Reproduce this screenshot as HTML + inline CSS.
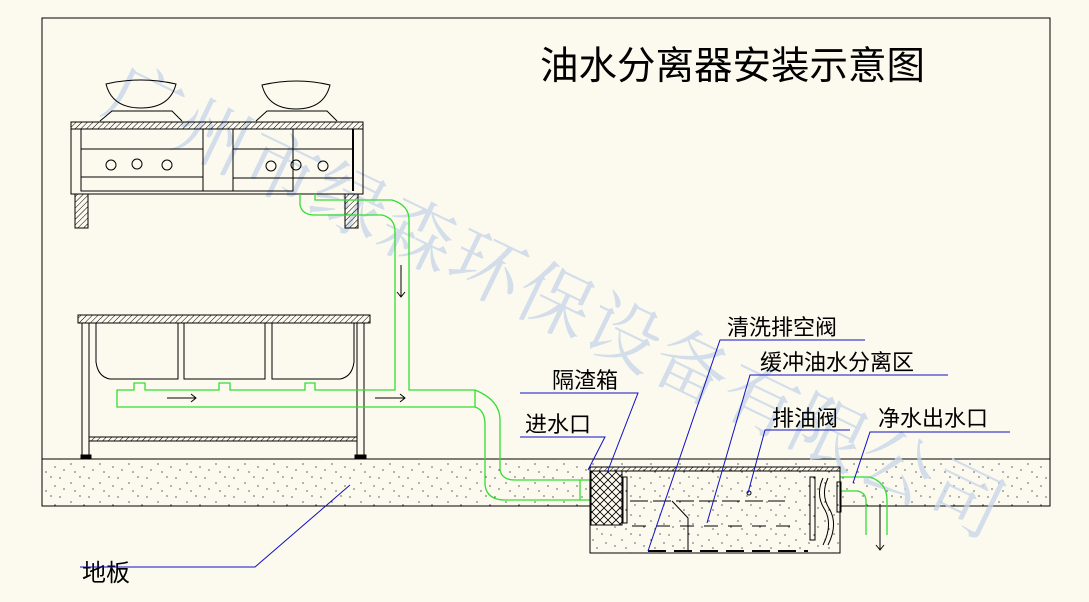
<!DOCTYPE html>
<html><head><meta charset="utf-8"><style>
html,body{margin:0;padding:0;background:#fcfaee;}
svg{display:block;font-family:"Liberation Sans","Noto Sans CJK SC",sans-serif;}
</style></head><body>
<svg width="1089" height="602" viewBox="0 0 1089 602" xmlns="http://www.w3.org/2000/svg">
<defs>
<pattern id="hatch" width="4" height="4" patternUnits="userSpaceOnUse" patternTransform="rotate(45)"><line x1="0" y1="0" x2="0" y2="4" stroke="#000" stroke-width="1"/></pattern>
<pattern id="dots" width="29" height="19" patternUnits="userSpaceOnUse">
<circle cx="2" cy="3" r=".6" fill="#000"/><circle cx="13" cy="8" r=".6" fill="#000"/><circle cx="22" cy="2" r=".6" fill="#000"/><circle cx="6" cy="14" r=".6" fill="#000"/><circle cx="17" cy="16" r=".6" fill="#000"/><circle cx="26" cy="11" r=".6" fill="#000"/></pattern>
<pattern id="mesh" width="8" height="8" patternUnits="userSpaceOnUse"><path d="M0 0L8 8M8 0L0 8" stroke="#000" stroke-width=".8"/></pattern>
</defs>
<rect width="1089" height="602" fill="#fcfaee"/>
<rect x="42" y="459" width="1008" height="47" fill="url(#dots)"/>
<rect x="42" y="18" width="1008" height="488" fill="none" stroke="#000" stroke-width="1"/>
<line x1="42" y1="459" x2="1050" y2="459" stroke="#000"/>
<text x="0" y="0" transform="translate(100,110) rotate(25.8)" font-size="74" fill="#c9d8ea" opacity=".8" letter-spacing="2" font-family="'Noto Serif CJK SC','Noto Sans CJK SC',serif">广州市绿森环保设备有限公司</text>
<text x="540" y="79" font-size="38.5" fill="#000">油水分离器安装示意图</text>
<g stroke="#000" fill="none" stroke-width="1">
<path d="M106 84 Q141 76 176 84 Q170 108 141 108 Q112 108 106 84Z"/>
<path d="M262 85 Q297 77 330 85 Q324 109 296 109 Q268 109 262 85Z"/>
<path d="M100 121 L112 111 L172 111 L182 121"/><path d="M256 121 L267 111 L327 111 L337 121"/>
<rect x="71" y="122" width="292" height="7" fill="url(#hatch)"/>
<rect x="71" y="129" width="292" height="65"/>
<rect x="81" y="129" width="212" height="62"/>
<line x1="203" y1="129" x2="203" y2="191"/><line x1="233" y1="129" x2="233" y2="191"/>
<line x1="81" y1="149" x2="203" y2="149"/><line x1="81" y1="177" x2="203" y2="177"/>
<line x1="233" y1="149" x2="353" y2="149"/><line x1="233" y1="178" x2="353" y2="178"/>
<line x1="353" y1="129" x2="353" y2="191" stroke-width="2"/>
<rect x="75" y="194" width="13" height="34" fill="url(#hatch)"/><rect x="345" y="194" width="13" height="34" fill="url(#hatch)"/>
<g><circle cx="111" cy="165" r="5"/><circle cx="137" cy="164" r="5"/><circle cx="167" cy="165" r="5"/><circle cx="271" cy="166" r="5"/><circle cx="296" cy="165" r="5"/><circle cx="323" cy="166" r="5"/></g>
</g>
<g stroke="#000" fill="none">
<rect x="78" y="315" width="292" height="8" fill="url(#hatch)"/>
<rect x="82" y="323" width="7" height="134"/><rect x="357" y="323" width="7" height="134"/>
<rect x="89" y="437" width="268" height="4" fill="url(#hatch)"/>
<path d="M96 323 V362 Q98 377 110 379 H178 V323"/>
<path d="M184 323 V379 H265 V323"/>
<path d="M272 323 V379 H340 Q352 377 354 362 V323"/>
<rect x="81" y="455" width="10" height="4" fill="#000"/><rect x="355" y="455" width="11" height="4" fill="#000"/>
</g>
<g stroke="#33dd33" fill="none" stroke-width="1.3">
<path d="M300 194 V205 Q302 215 315 215 H382 Q395 218 395 232 V390 H315 V383 H305 V390 H230 V383 H219 V390 H145 V383 H134 V390 H117 V407 H475 Q485 410 485 425 V485 Q487 500 505 500 H580"/>
<path d="M315 194 V200 H392 Q409 205 409 220 V390 H475 Q500 400 500 420 V470 Q502 480 515 480 H580"/>
<line x1="475" y1="390" x2="475" y2="407"/>
<rect x="580" y="480" width="10" height="20"/>
<path d="M840 477 V491 H857 Q865 492 866 500 V535"/>
<path d="M840 477 H870 Q887 483 887 500 V535"/>
</g>
<g stroke="#000" fill="none">
<path d="M167 398 H196 M191 394 L196 398 L191 402"/>
<path d="M375 398 H405 M400 394 L405 398 L400 402"/>
<path d="M401 265 V297 M397 292 L401 297 L405 292"/>
<path d="M880 504 V550 M876 545 L880 550 L884 545"/>
</g>
<g stroke="#000" fill="none">
<rect x="590" y="467" width="250" height="4" fill="url(#hatch)"/>
<rect x="590" y="471" width="250" height="82" fill="#fcfaee"/>
<rect x="590" y="471" width="250" height="82" fill="url(#dots)"/>
<rect x="591" y="471" width="31" height="54" fill="#fcfaee"/>
<rect x="591" y="471" width="31" height="54" fill="url(#mesh)"/>
<rect x="623" y="477" width="4" height="46"/>
<rect x="810" y="477" width="5" height="63"/>
<rect x="837" y="482" width="4" height="30"/>
<path d="M630 501H785" stroke-dasharray="18 5"/>
<path d="M632 526H800" stroke-dasharray="14 10"/>
<path d="M648 551H808" stroke-width="2" stroke-dasharray="18 8"/>
<path d="M672 501 L688 518 V551"/>
<path d="M823 478 Q815 495 825 510 Q833 525 823 545 M828 478 Q820 495 830 510 Q838 525 828 545"/>
<circle cx="749" cy="493" r="2"/>
</g>
<g font-size="22" fill="#000">
<text x="727" y="335">清洗排空阀</text>
<text x="760" y="370">缓冲油水分离区</text>
<text x="552" y="388">隔渣箱</text>
<text x="525" y="432">进水口</text>
<text x="772" y="426">排油阀</text>
<text x="878" y="426">净水出水口</text>
<text x="82" y="581" font-size="24">地板</text>
</g>
<g stroke="#1010c0" fill="none" stroke-width="1">
<path d="M865 340 H720 L648 551"/>
<path d="M948 375 H750 L707 523"/>
<path d="M520 393 H638 L607 473"/>
<path d="M520 437 H605 L588 470"/>
<path d="M850 430 H765 L748 493"/>
<path d="M1010 432 H870 L853 483"/>
<path d="M80 567 H255 L350 485"/>
</g>
</svg>
</body></html>
